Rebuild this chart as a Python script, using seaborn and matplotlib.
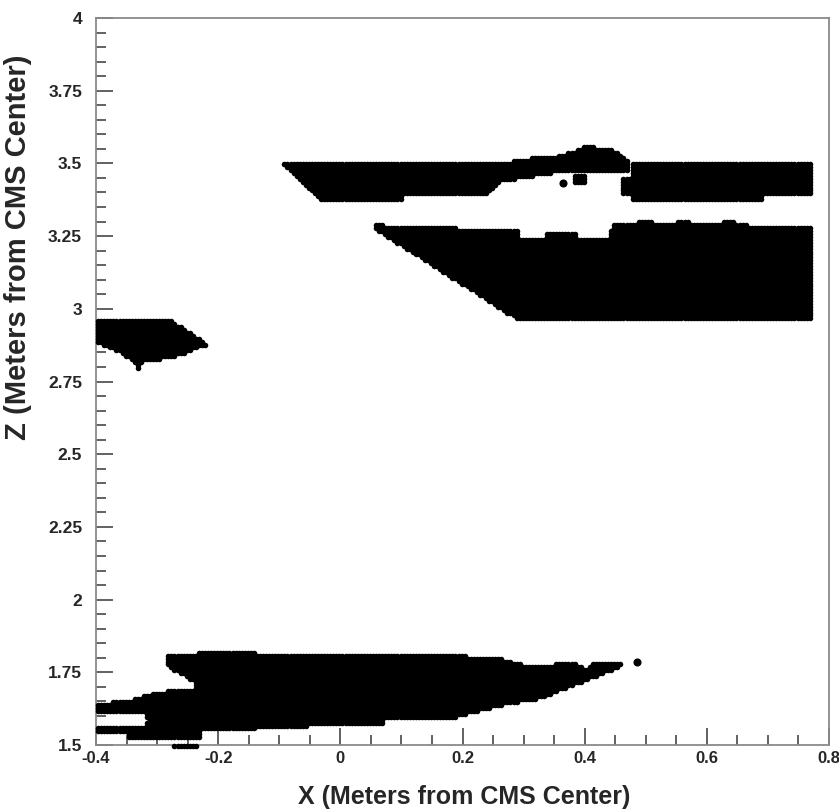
import numpy as np
import pandas as pd
import matplotlib
matplotlib.use("Agg")
import matplotlib.pyplot as plt
from matplotlib.path import Path
from matplotlib.ticker import MultipleLocator, FixedLocator, FixedFormatter
import seaborn as sns

# Scan pitch and extent of the position grid (meters)
X_STEP = 0.005
Z_STEP = 0.01
X_RANGE = (-0.3965, 0.78)
Z_RANGE = (1.497, 3.567)

# Outlines of the covered areas (X, Z in meters from CMS center)
BAND_LEFT_X = [-0.098, 0.268, 0.283, 0.330, 0.372, 0.372, 0.262, 0.240, 0.100, 0.100, -0.030]
BAND_LEFT_Z = [3.500, 3.500, 3.510, 3.522, 3.530, 3.475, 3.440, 3.392, 3.392, 3.372, 3.372]

BUMP_X = [0.366, 0.366, 0.372, 0.392, 0.398, 0.415, 0.425, 0.445, 0.455, 0.462, 0.470, 0.470]
BUMP_Z = [3.472, 3.522, 3.540, 3.550, 3.560, 3.560, 3.550, 3.550, 3.535, 3.522, 3.505, 3.472]

PIECE_X = [0.380, 0.402, 0.402, 0.380]
PIECE_Z = [3.432, 3.432, 3.462, 3.462]

BAND_RIGHT_X = [0.463, 0.474, 0.474, 0.772, 0.772, 0.690, 0.690, 0.476, 0.476, 0.463]
BAND_RIGHT_Z = [3.450, 3.450, 3.500, 3.500, 3.392, 3.392, 3.372, 3.372, 3.392, 3.392]

BLOCK_X = [0.050, 0.062, 0.090, 0.190, 0.190, 0.289, 0.289, 0.338, 0.338, 0.387, 0.387,
           0.440, 0.446, 0.500, 0.530, 0.560, 0.600, 0.640, 0.660, 0.682, 0.772, 0.772, 0.290]
BLOCK_Z = [3.282, 3.290, 3.280, 3.280, 3.270, 3.270, 3.240, 3.240, 3.260, 3.260, 3.240,
           3.240, 3.290, 3.300, 3.290, 3.300, 3.290, 3.300, 3.290, 3.280, 3.280, 2.962, 2.962]

WEDGE_X = [-0.41, -0.277, -0.218, -0.270, -0.325, -0.331, -0.338, -0.355, -0.41]
WEDGE_Z = [2.960, 2.960, 2.880, 2.835, 2.818, 2.795, 2.818, 2.840, 2.900]

LOWER_X = [-0.282, -0.233, -0.233, -0.138, -0.138, 0.180, 0.260, 0.305, 0.360, 0.387,
           0.404, 0.413, 0.458, 0.462, 0.371, 0.322, 0.261, 0.196, 0.190, 0.070,
           0.070, -0.055, -0.055, -0.137, -0.137, -0.230, -0.230, -0.349, -0.349, -0.41,
           -0.41, -0.322, -0.316, -0.322, -0.41, -0.41, -0.349, -0.295, -0.237, -0.242,
           -0.282]
LOWER_Z = [1.810, 1.810, 1.820, 1.820, 1.810, 1.810, 1.800, 1.770, 1.778, 1.778,
           1.760, 1.778, 1.778, 1.772, 1.698, 1.657, 1.636, 1.602, 1.592, 1.592,
           1.572, 1.572, 1.562, 1.562, 1.552, 1.552, 1.522, 1.522, 1.542, 1.542,
           1.560, 1.560, 1.588, 1.612, 1.612, 1.642, 1.650, 1.685, 1.695, 1.720,
           1.770]

STUB_X = [-0.272, -0.233, -0.233, -0.272]
STUB_Z = [1.492, 1.492, 1.502, 1.502]

# isolated hits
DOT_X = [0.364, 0.485]
DOT_Z = [3.433, 1.785]

OUTLINES = [
    (BAND_LEFT_X, BAND_LEFT_Z), (BUMP_X, BUMP_Z), (PIECE_X, PIECE_Z),
    (BAND_RIGHT_X, BAND_RIGHT_Z), (BLOCK_X, BLOCK_Z), (WEDGE_X, WEDGE_Z),
    (LOWER_X, LOWER_Z), (STUB_X, STUB_Z),
]

gx = np.round(np.arange(X_RANGE[0], X_RANGE[1] + 1e-9, X_STEP), 4)
gz = np.round(np.arange(Z_RANGE[0], Z_RANGE[1] + 1e-9, Z_STEP), 4)
GX, GZ = np.meshgrid(gx, gz)
grid = np.column_stack([GX.ravel(), GZ.ravel()])

inside = np.zeros(len(grid), dtype=bool)
for xs, zs in OUTLINES:
    inside |= Path(np.column_stack([xs, zs])).contains_points(grid)

hits = pd.DataFrame({"x": grid[inside, 0], "z": grid[inside, 1]})
dots = pd.DataFrame({"x": DOT_X, "z": DOT_Z})

X_TICKS = [-0.4, -0.2, 0.0, 0.2, 0.4, 0.6, 0.8]
X_LABELS = ["-0.4", "-0.2", "0", "0.2", "0.4", "0.6", "0.8"]
Z_TICKS = [1.5, 1.75, 2.0, 2.25, 2.5, 2.75, 3.0, 3.25, 3.5, 3.75, 4.0]
Z_LABELS = ["1.5", "1.75", "2", "2.25", "2.5", "2.75", "3", "3.25", "3.5", "3.75", "4"]

sns.set_theme(style="white")
plt.rcParams["font.family"] = ["Liberation Sans", "DejaVu Sans"]
plt.rcParams["font.weight"] = "bold"

fig = plt.figure(figsize=(8.39, 8.10), dpi=100)
ax = fig.add_axes([96 / 839, 1 - 745 / 810, (829 - 96) / 839, (745 - 18) / 810])

sns.scatterplot(data=hits, x="x", y="z", ax=ax, color="black", s=16,
                linewidth=0, marker="o", legend=False, clip_on=False, zorder=4)
sns.scatterplot(data=dots, x="x", y="z", ax=ax, color="black", s=34,
                linewidth=0, marker="o", legend=False, clip_on=False, zorder=4)

ax.set_xlim(-0.4, 0.8)
ax.set_ylim(1.5, 4.0)

ax.xaxis.set_major_locator(FixedLocator(X_TICKS))
ax.xaxis.set_major_formatter(FixedFormatter(X_LABELS))
ax.xaxis.set_minor_locator(MultipleLocator(0.05))
ax.yaxis.set_major_locator(FixedLocator(Z_TICKS))
ax.yaxis.set_major_formatter(FixedFormatter(Z_LABELS))
ax.yaxis.set_minor_locator(MultipleLocator(0.05))

frame_col = "#8a8a8a"
for side in ["left", "bottom", "top", "right"]:
    ax.spines[side].set_color(frame_col)
    ax.spines[side].set_linewidth(1.3)
    ax.spines[side].set_zorder(3)

ax.tick_params(axis="both", which="both", direction="in", bottom=True, left=True,
               top=False, right=False, color="#555555", width=1.3)
ax.tick_params(axis="y", which="major", length=12, pad=10, labelsize=12.5)
ax.tick_params(axis="y", which="minor", length=7)
ax.tick_params(axis="x", which="major", length=12, pad=4, labelsize=12)
ax.tick_params(axis="x", which="minor", length=7)
for lab in ax.get_xticklabels() + ax.get_yticklabels():
    lab.set_fontweight("bold")

ax.set_xlabel("X (Meters from CMS Center)", fontsize=18, fontweight="bold")
ax.set_ylabel("Z (Meters from CMS Center)", fontsize=21, fontweight="bold")
ax.xaxis.set_label_coords(0.502, -0.0715)
ax.yaxis.set_label_coords(-0.106, 0.685)
ax.xaxis.label.set_va("center")
ax.yaxis.label.set_va("center")

fig.savefig("out.png", dpi=100, facecolor="white")
